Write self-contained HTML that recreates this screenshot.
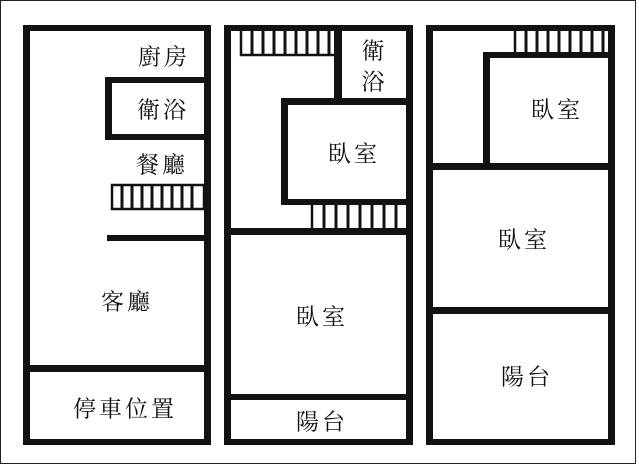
<!DOCTYPE html>
<html><head><meta charset="utf-8"><style>
html,body{margin:0;padding:0;background:#fff}
svg{display:block}
text{font-family:"Noto Serif CJK SC","Noto Serif CJK TC","Liberation Serif",serif;font-size:23px;fill:#111;text-anchor:middle;dominant-baseline:central;letter-spacing:3px}
</style></head><body>
<svg width="639" height="465" viewBox="0 0 639 465" xmlns="http://www.w3.org/2000/svg">
<rect x="0.5" y="0.5" width="635" height="463" fill="#fff" stroke="#222" stroke-width="1"/>
<g fill="#141210">
<rect x="23" y="25" width="188" height="6"/>
<rect x="23" y="25" width="7" height="420"/>
<rect x="204" y="25" width="7" height="420"/>
<rect x="23" y="439" width="188" height="6"/>
<rect x="23" y="365" width="188" height="7"/>
<rect x="105" y="77" width="100" height="6"/>
<rect x="105" y="77" width="7" height="63"/>
<rect x="105" y="134" width="100" height="6"/>
<rect x="107" y="235" width="98" height="6"/>
<rect x="224" y="25" width="189" height="6"/>
<rect x="224" y="25" width="7" height="420"/>
<rect x="406" y="25" width="7" height="420"/>
<rect x="224" y="439" width="189" height="6"/>
<rect x="224" y="228" width="189" height="7"/>
<rect x="224" y="394" width="189" height="6"/>
<rect x="334" y="25" width="8" height="80"/>
<rect x="281" y="98" width="130" height="7"/>
<rect x="281" y="98" width="7" height="107"/>
<rect x="281" y="199" width="130" height="6"/>
<rect x="426" y="25" width="189" height="6"/>
<rect x="426" y="25" width="7" height="420"/>
<rect x="608" y="25" width="7" height="420"/>
<rect x="426" y="439" width="189" height="6"/>
<rect x="483" y="52" width="130" height="6"/>
<rect x="483" y="52" width="7" height="118"/>
<rect x="426" y="163" width="189" height="7"/>
<rect x="426" y="307" width="189" height="7"/>
</g>
<g stroke="#141210" fill="none">
<rect x="112" y="185" width="92" height="24" stroke-width="2.5"/>
<path d="M122 185V209M132 185V209M142 185V209M152 185V209M162 185V209M172 185V209M182 185V209M192 185V209" stroke-width="3"/>
<path d="M241 31V55H334" stroke-width="2.5"/>
<path d="M252 31V55M263 31V55M274 31V55M285 31V55M296 31V55M307 31V55M318 31V55M329 31V55" stroke-width="3"/>
<path d="M312 205V228" stroke-width="2.5"/>
<path d="M324 205V228M336 205V228M348 205V228M360 205V228M372 205V228M384 205V228M396 205V228" stroke-width="3"/>
<path d="M515 31V52" stroke-width="2.5"/>
<path d="M526 31V52M537 31V52M548 31V52M559 31V52M570 31V52M581 31V52M592 31V52M603 31V52" stroke-width="3"/>
</g>
<text x="164" y="55">廚房</text>
<text x="163" y="108">衛浴</text>
<text x="162" y="163">餐廳</text>
<text x="127" y="300">客廳</text>
<text x="125" y="407">停車位置</text>
<text x="373" y="49" style="letter-spacing:0">衛</text>
<text x="373" y="80" style="letter-spacing:0">浴</text>
<text x="354" y="152">臥室</text>
<text x="322" y="315">臥室</text>
<text x="322" y="420">陽台</text>
<text x="557" y="108">臥室</text>
<text x="524" y="238">臥室</text>
<text x="527" y="375">陽台</text>
</svg>
</body></html>
